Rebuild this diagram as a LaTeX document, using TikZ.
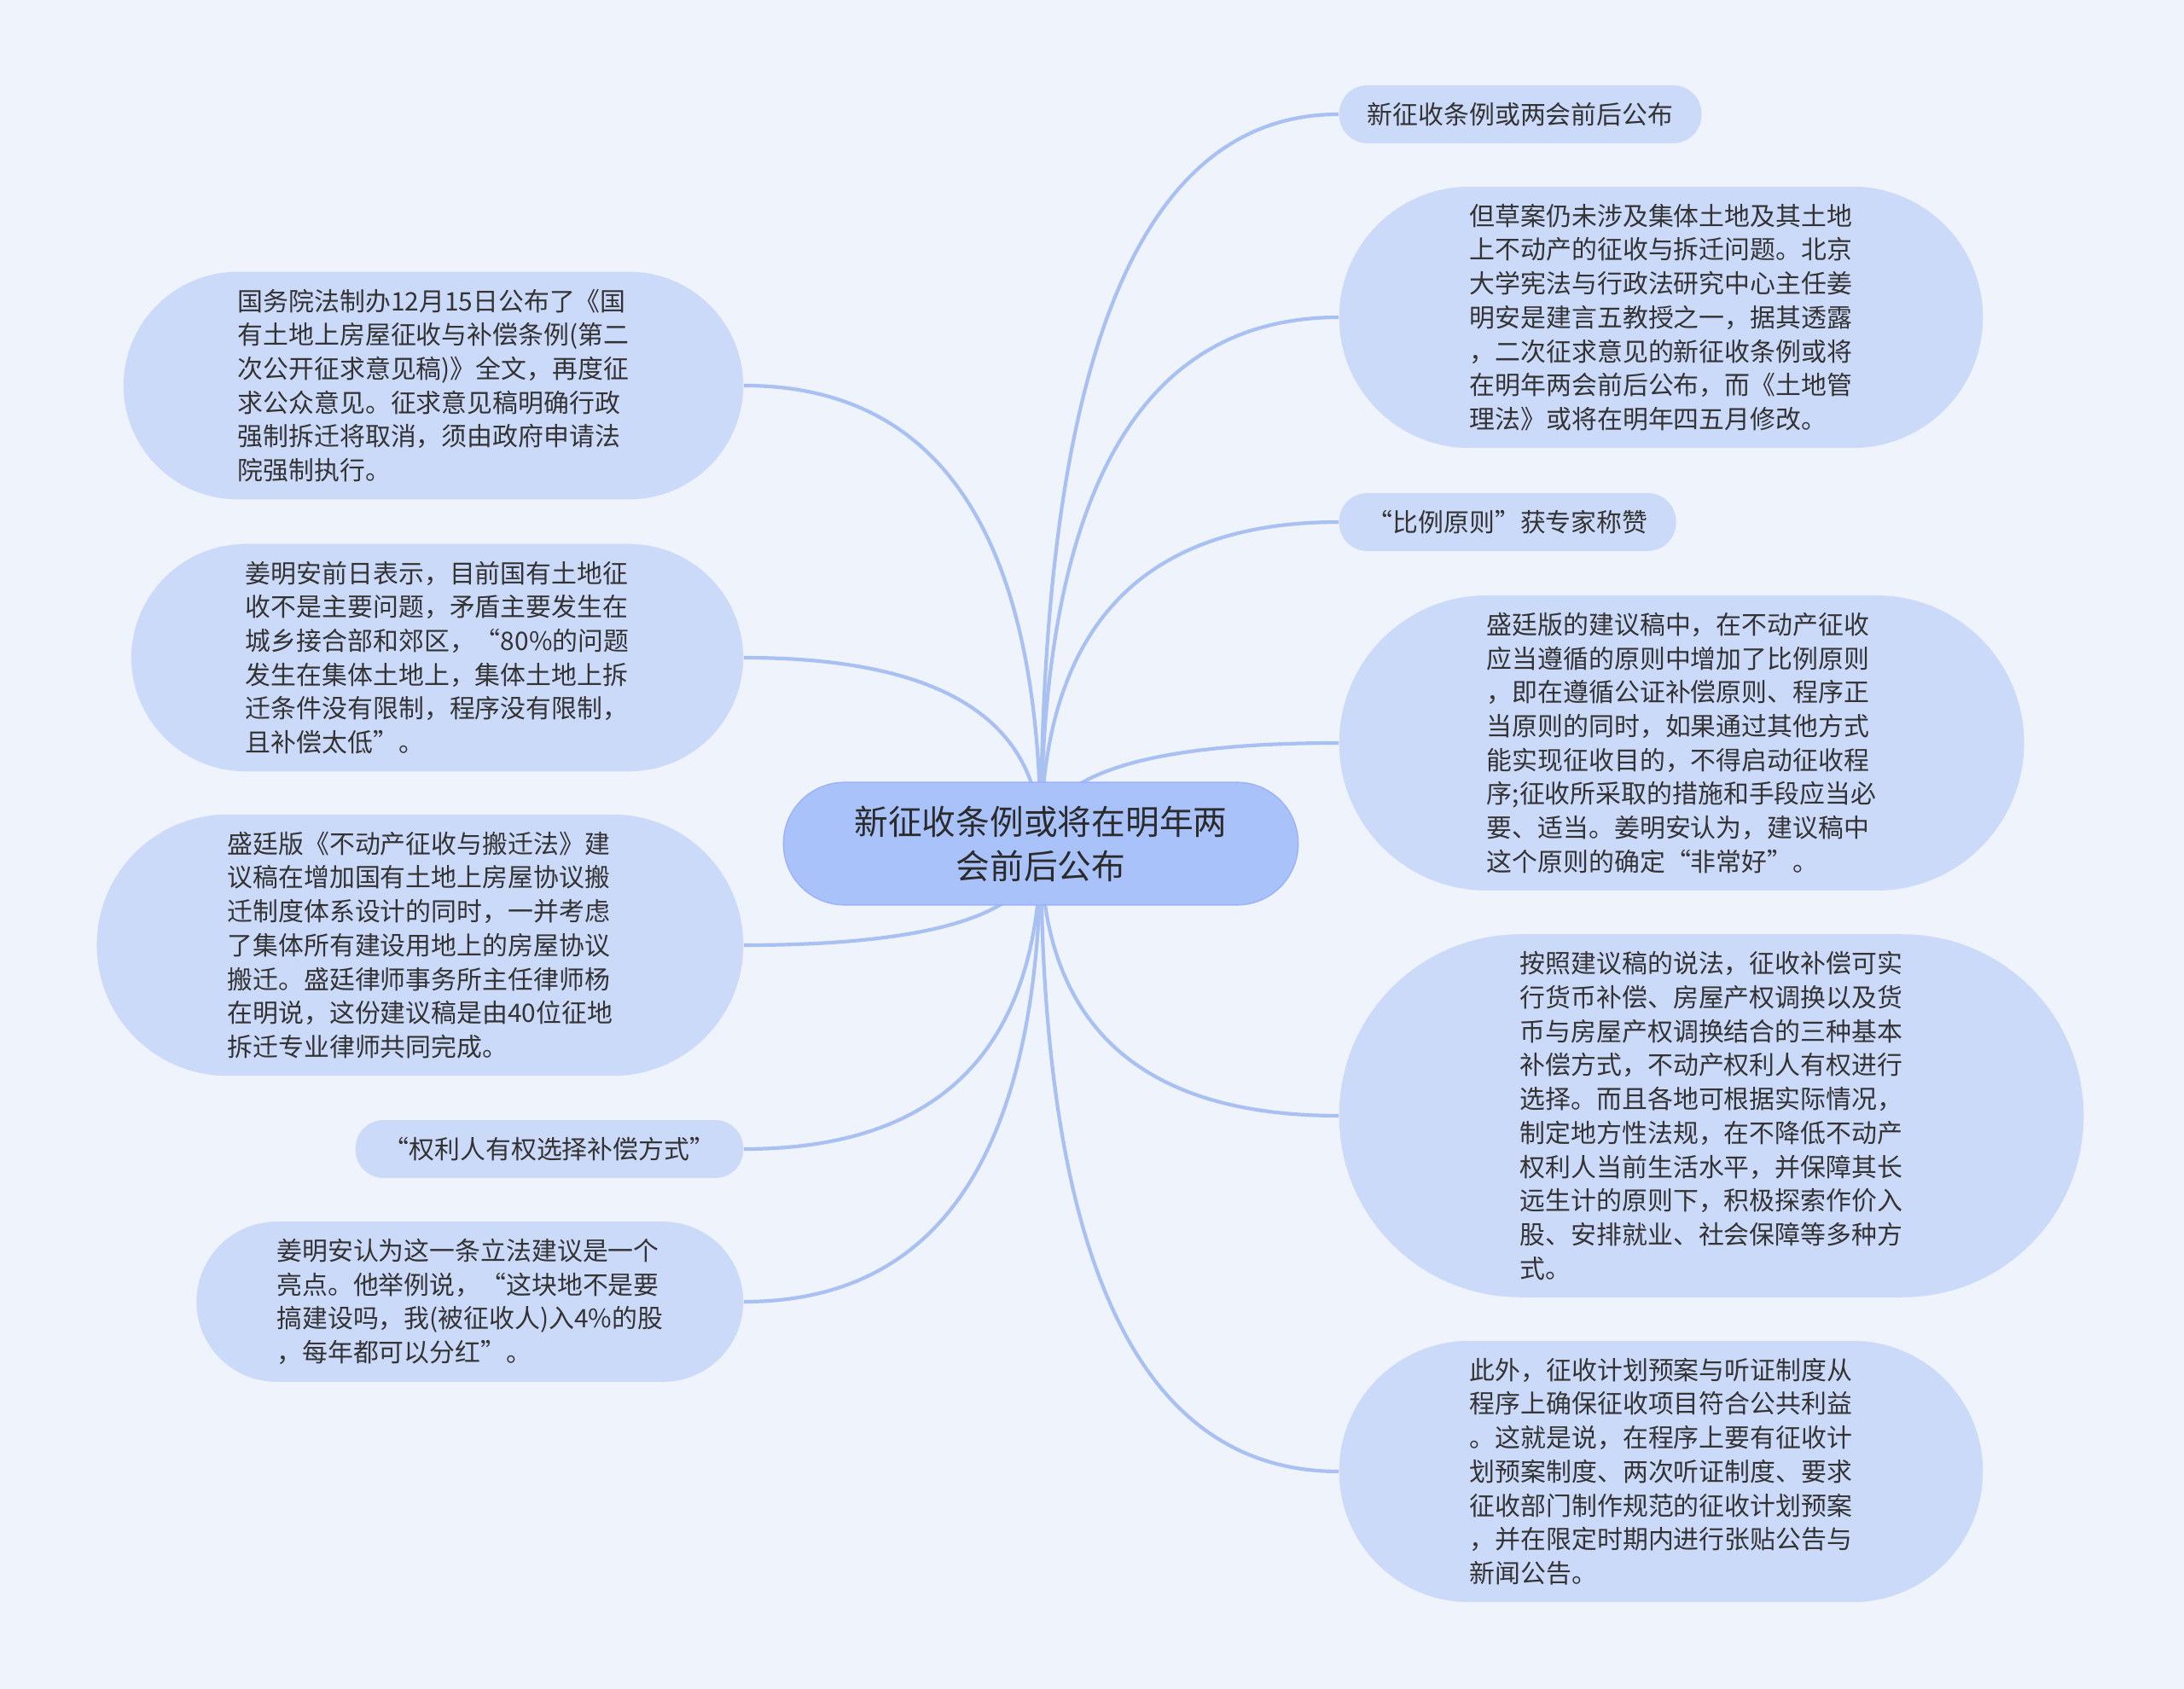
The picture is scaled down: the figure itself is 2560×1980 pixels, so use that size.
\documentclass[tikz,border=0pt]{standalone}
\usepackage{fontspec}
\newfontfamily\cjk{Noto Sans CJK SC}
\usetikzlibrary{calc,backgrounds}
\definecolor{bgcol}{HTML}{EFF3FB}
\definecolor{leafcol}{HTML}{CCDAFA}
\definecolor{rootcol}{HTML}{A9C2FA}
\definecolor{linkcol}{HTML}{A9C1F2}
\definecolor{txtcol}{HTML}{333333}

\begin{document}
\begin{tikzpicture}[
    x=0.01cm, y=-0.01cm,
    root/.style={rectangle, rounded corners=0.715cm, fill=rootcol, draw=rootcol!92!blue,
      align=center, inner xsep=0.83cm, inner ysep=7.8pt, text=txtcol!85!black,
      font=\cjk\fontsize{11.3}{14.8}\selectfont},
    % #1 = half the height of the box, so the ends come out round
    leaf/.style={rectangle, rounded corners=#1, inner xsep=#1, fill=leafcol, align=left,
      inner ysep=5.7pt, text=txtcol, font=\cjk\fontsize{8.5}{11.3}\selectfont},
    link/.style={draw=linkcol, line width=1.2pt},
  ]
    % Side edges: right branches start at x=1569, left ones end at x=872
    \def\rx{1569}
    \def\lx{872}

    % === Root ===
    \node[root] (root) at (1220, 989) {新征收条例或将在明年两\\会前后公布};

    % === Right branches ===
    \node[leaf=0.33cm, anchor=west] (r1) at (\rx, 134) {新征收条例或两会前后公布};
    \node[leaf=1.53cm, anchor=west] (r2) at (\rx, 372) {但草案仍未涉及集体土地及其土地\\上不动产的征收与拆迁问题。北京\\大学宪法与行政法研究中心主任姜\\明安是建言五教授之一，据其透露\\，二次征求意见的新征收条例或将\\在明年两会前后公布，而《土地管\\理法》或将在明年四五月修改。};
    \node[leaf=0.33cm, anchor=west] (r3) at (\rx, 612) {“比例原则”获专家称赞};
    \node[leaf=1.73cm, anchor=west] (r4) at (\rx, 871) {盛廷版的建议稿中，在不动产征收\\应当遵循的原则中增加了比例原则\\，即在遵循公证补偿原则、程序正\\当原则的同时，如果通过其他方式\\能实现征收目的，不得启动征收程\\序;征收所采取的措施和手段应当必\\要、适当。姜明安认为，建议稿中\\这个原则的确定“非常好”。};
    \node[leaf=2.12cm, anchor=west] (r5) at (\rx, 1308) {按照建议稿的说法，征收补偿可实\\行货币补偿、房屋产权调换以及货\\币与房屋产权调换结合的三种基本\\补偿方式，不动产权利人有权进行\\选择。而且各地可根据实际情况，\\制定地方性法规，在不降低不动产\\权利人当前生活水平，并保障其长\\远生计的原则下，积极探索作价入\\股、安排就业、社会保障等多种方\\式。};
    \node[leaf=1.53cm, anchor=west] (r6) at (\rx, 1725) {此外，征收计划预案与听证制度从\\程序上确保征收项目符合公共利益\\。这就是说，在程序上要有征收计\\划预案制度、两次听证制度、要求\\征收部门制作规范的征收计划预案\\，并在限定时期内进行张贴公告与\\新闻公告。};

    % === Left branches ===
    \node[leaf=1.34cm, anchor=east] (l1) at (\lx, 452) {国务院法制办12月15日公布了《国\\有土地上房屋征收与补偿条例(第二\\次公开征求意见稿)》全文，再度征\\求公众意见。征求意见稿明确行政\\强制拆迁将取消，须由政府申请法\\院强制执行。};
    \node[leaf=1.34cm, anchor=east] (l2) at (\lx, 771) {姜明安前日表示，目前国有土地征\\收不是主要问题，矛盾主要发生在\\城乡接合部和郊区，“80\%的问题\\发生在集体土地上，集体土地上拆\\迁条件没有限制，程序没有限制，\\且补偿太低”。};
    \node[leaf=1.53cm, anchor=east] (l3) at (\lx, 1108) {盛廷版《不动产征收与搬迁法》建\\议稿在增加国有土地上房屋协议搬\\迁制度体系设计的同时，一并考虑\\了集体所有建设用地上的房屋协议\\搬迁。盛廷律师事务所主任律师杨\\在明说，这份建议稿是由40位征地\\拆迁专业律师共同完成。};
    \node[leaf=0.33cm, anchor=east] (l4) at (\lx, 1347) {“权利人有权选择补偿方式”};
    \node[leaf=0.94cm, anchor=east] (l5) at (\lx, 1526) {姜明安认为这一条立法建议是一个\\亮点。他举例说，“这块地不是要\\搞建设吗，我(被征收人)入4\%的股\\，每年都可以分红”。};

    % === Page and links (behind the nodes) ===
    \begin{scope}[on background layer]
      \fill[bgcol] (0, 0) rectangle (2560, 1980);
      \foreach \n/\a in {r1/west, r2/west, r3/west, r4/west, r5/west, r6/west,
                         l1/east, l2/east, l3/east, l4/east, l5/east}
        \draw[link] (root.center)
          .. controls ($(root.center)!0.667!(root.center |- \n.\a)$)
          and ($(\n.\a)!0.667!(root.center |- \n.\a)$) .. (\n.\a);
    \end{scope}
  \end{tikzpicture}
\end{document}
